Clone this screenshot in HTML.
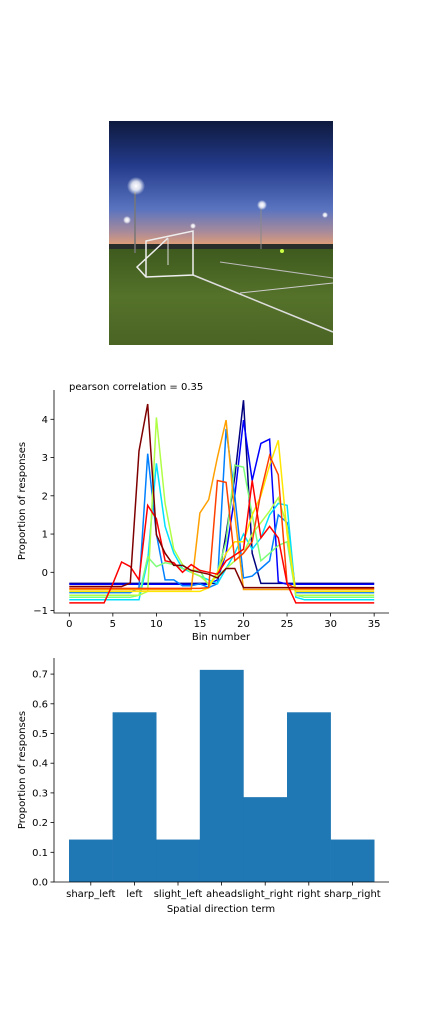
<!DOCTYPE html>
<html><head><meta charset="utf-8"><style>
body{margin:0;background:#fff;width:432px;height:1008px;overflow:hidden}
svg text{font-family:"DejaVu Sans","Liberation Sans",sans-serif;font-size:10px;fill:#000}
</style></head><body>
<svg width="432" height="1008" viewBox="0 0 432 1008" xmlns="http://www.w3.org/2000/svg">
<defs>
<linearGradient id="sky" x1="0" y1="0" x2="0" y2="1">
<stop offset="0" stop-color="#0e1a3e"/><stop offset="0.35" stop-color="#233a8a"/><stop offset="0.7" stop-color="#5a74c0"/><stop offset="0.88" stop-color="#a88a9a"/><stop offset="1" stop-color="#e9a070"/></linearGradient>
<linearGradient id="grass" x1="0" y1="0" x2="0" y2="1">
<stop offset="0" stop-color="#3e5a1e"/><stop offset="0.5" stop-color="#55722a"/><stop offset="1" stop-color="#4a6424"/></linearGradient>
<radialGradient id="glow"><stop offset="0" stop-color="#fff"/><stop offset="0.5" stop-color="#fff" stop-opacity="0.8"/><stop offset="1" stop-color="#fff" stop-opacity="0"/></radialGradient>
</defs>
<g>
<rect x="109" y="121" width="224" height="126" fill="url(#sky)"/>
<rect x="109" y="244" width="224" height="6" fill="#2a2e2a"/>
<rect x="109" y="249" width="224" height="96" fill="url(#grass)"/>
<line x1="135" y1="192" x2="135" y2="253" stroke="#777" stroke-width="1.5"/>
<circle cx="136" cy="186" r="9" fill="url(#glow)"/>
<line x1="261" y1="208" x2="261" y2="249" stroke="#888"/>
<circle cx="262" cy="205" r="5" fill="url(#glow)"/>
<circle cx="127" cy="220" r="4" fill="url(#glow)"/>
<circle cx="325" cy="215" r="3" fill="url(#glow)"/>
<circle cx="193" cy="226" r="3" fill="url(#glow)"/>
<line x1="193" y1="275" x2="333" y2="332" stroke="#ddd" stroke-width="1.5"/>
<line x1="240" y1="293" x2="333" y2="283" stroke="#ccc"/>
<line x1="220" y1="262" x2="333" y2="278" stroke="#bbb"/>
<polyline points="146,277 146,241 193,231 193,275 146,277 137,267 168,238" fill="none" stroke="#eee" stroke-width="1.5"/>
<line x1="168" y1="238" x2="168" y2="265" stroke="#ddd"/>
<circle cx="282" cy="251" r="2" fill="#cf4"/>
</g>
<g id="lineplot"></g>
<g id="barplot"></g>
</svg>
<script>
const binCount = 36;
const seriesColors = ["#00007f","#0000ff","#0080ff","#00dfff","#7dff7a","#b0ff46","#ffe600","#ffa000","#ff4000","#ff0000","#7f0000"];
const sNavy =   [-0.29,-0.29,-0.29,-0.29,-0.29,-0.29,-0.29,-0.29,-0.29,-0.29,-0.29,-0.29,-0.29,-0.29,-0.29,-0.29,-0.29,-0.29,1.0,2.5,4.5,0.5,-0.29,-0.29,-0.29,-0.29,-0.29,-0.29,-0.29,-0.29,-0.29,-0.29,-0.29,-0.29,-0.29,-0.29];
const sBlue =   [-0.31,-0.31,-0.31,-0.31,-0.31,-0.31,-0.31,-0.31,-0.31,-0.31,-0.31,-0.31,-0.31,-0.31,-0.31,-0.31,-0.31,-0.2,0.5,2.0,3.98,2.4,3.37,3.48,-0.25,-0.31,-0.31,-0.31,-0.31,-0.31,-0.31,-0.31,-0.31,-0.31,-0.31,-0.31];
const sDodger = [-0.53,-0.53,-0.53,-0.53,-0.53,-0.53,-0.53,-0.53,-0.4,3.1,1.0,-0.2,-0.2,-0.35,-0.35,-0.3,-0.4,-0.3,3.75,2.0,-0.15,-0.1,0.1,0.3,1.5,1.3,-0.53,-0.53,-0.53,-0.53,-0.53,-0.53,-0.53,-0.53,-0.53,-0.53];
const sCyan =   [-0.72,-0.72,-0.72,-0.72,-0.72,-0.72,-0.72,-0.72,-0.72,0.3,2.85,1.2,0.5,0.1,0.0,-0.1,-0.2,-0.3,0.1,0.5,1.0,0.6,0.9,1.5,1.8,1.75,-0.65,-0.72,-0.72,-0.72,-0.72,-0.72,-0.72,-0.72,-0.72,-0.72];
const sGreen =  [-0.65,-0.65,-0.65,-0.65,-0.65,-0.65,-0.65,-0.65,-0.6,0.4,0.15,0.25,0.2,0.1,0.05,0.05,-0.35,0.0,0.8,2.8,2.75,1.5,0.3,0.5,0.7,0.8,-0.6,-0.65,-0.65,-0.65,-0.65,-0.65,-0.65,-0.65,-0.65,-0.65];
const sLime =   [-0.6,-0.6,-0.6,-0.6,-0.6,-0.6,-0.6,-0.6,-0.6,-0.5,4.05,1.8,0.6,0.2,0.0,-0.1,-0.3,-0.1,0.1,0.3,0.5,1.0,1.3,1.6,1.95,1.2,-0.6,-0.6,-0.6,-0.6,-0.6,-0.6,-0.6,-0.6,-0.6,-0.6];
const sYellow = [-0.5,-0.5,-0.5,-0.5,-0.5,-0.5,-0.5,-0.5,-0.5,-0.5,-0.5,-0.5,-0.5,-0.5,-0.5,-0.5,-0.4,0.0,0.5,0.8,0.8,1.5,2.0,2.8,3.45,1.0,-0.5,-0.5,-0.5,-0.5,-0.5,-0.5,-0.5,-0.5,-0.5,-0.5];
const sOrange = [-0.45,-0.45,-0.45,-0.45,-0.45,-0.45,-0.45,-0.45,-0.45,-0.45,-0.45,-0.45,-0.45,-0.45,-0.45,1.55,1.9,3.0,3.98,1.5,-0.45,-0.45,-0.45,-0.45,-0.45,-0.45,-0.45,-0.45,-0.45,-0.45,-0.45,-0.45,-0.45,-0.45,-0.45,-0.45];
const sOrRed =  [-0.42,-0.42,-0.42,-0.42,-0.42,-0.42,-0.42,-0.42,-0.42,-0.42,-0.42,-0.42,-0.42,-0.42,-0.42,-0.42,-0.4,2.4,2.35,0.3,0.5,0.8,2.1,3.05,2.55,-0.3,-0.42,-0.42,-0.42,-0.42,-0.42,-0.42,-0.42,-0.42,-0.42,-0.42];
const sRed =    [-0.8,-0.8,-0.8,-0.8,-0.8,-0.3,0.27,0.15,-0.2,1.75,1.4,0.3,0.25,0.0,0.2,0.05,0.0,-0.05,0.3,0.45,0.6,2.4,0.9,1.2,0.9,-0.3,-0.8,-0.8,-0.8,-0.8,-0.8,-0.8,-0.8,-0.8,-0.8,-0.8];
const sMaroon = [-0.37,-0.37,-0.37,-0.37,-0.37,-0.37,-0.37,-0.28,3.17,4.4,0.98,0.5,0.18,0.18,0.05,0.0,-0.05,-0.15,0.1,0.1,-0.4,-0.4,-0.4,-0.4,-0.4,-0.4,-0.4,-0.4,-0.4,-0.4,-0.4,-0.4,-0.4,-0.4,-0.4,-0.4];
const lineSeries = [sNavy,sBlue,sDodger,sCyan,sGreen,sLime,sYellow,sOrange,sOrRed,sRed,sMaroon];
const lineXTicks = [0,5,10,15,20,25,30,35];
const lineYTicks = [-1,0,1,2,3,4];
const pearsonText = "pearson correlation = 0.35";

const barCategories = ["sharp_left","left","slight_left","ahead","slight_right","right","sharp_right"];
const barValues = [0.1429,0.5714,0.1429,0.7143,0.2857,0.5714,0.1429];
const barYTicks = [0.0,0.1,0.2,0.3,0.4,0.5,0.6,0.7];

const NS="http://www.w3.org/2000/svg";
function mk(tag,attrs,parent,text){const e=document.createElementNS(NS,tag);for(const k in attrs)e.setAttribute(k,attrs[k]);if(text!==undefined)e.textContent=text;parent.appendChild(e);return e;}

// line chart
const L=document.getElementById('lineplot');
const lx=v=>69.3+v*8.71, ly=v=>572.3-v*38.25;
const lineBox={l:54,r:389,t:390,b:613};
lineSeries.forEach((s,i)=>{
  const p=mk('polyline',{points:s.map((v,j)=>lx(j).toFixed(1)+','+ly(v).toFixed(1)).join(' '),fill:'none',stroke:seriesColors[i],'stroke-width':1.5},L);
  
  
});
let ax=mk('path',{d:`M${lineBox.l},${lineBox.t}V${lineBox.b}H${lineBox.r}`,fill:'none',stroke:'#000','stroke-width':0.8},L);


lineXTicks.forEach(t=>{
  mk('line',{x1:lx(t),x2:lx(t),y1:lineBox.b,y2:lineBox.b+3.5,stroke:'#000','stroke-width':0.8},L);
  const tx=mk('text',{x:lx(t),y:lineBox.b+14,'text-anchor':'middle'},L,String(t));
  
  
});
lineYTicks.forEach(t=>{
  mk('line',{x1:lineBox.l-3.5,x2:lineBox.l,y1:ly(t),y2:ly(t),stroke:'#000','stroke-width':0.8},L);
  const tx=mk('text',{x:lineBox.l-6,y:ly(t)+3.5,'text-anchor':'end'},L,t<0?'\u2212'+Math.abs(t):String(t));
  
  
});
let t1=mk('text',{x:69,y:390},L,pearsonText);


let t2=mk('text',{x:221,y:640,'text-anchor':'middle'},L,'Bin number');


let t3=mk('text',{x:25,y:501,'text-anchor':'middle',transform:'rotate(-90 25 501)'},L,'Proportion of responses');



// bar chart
const B=document.getElementById('barplot');
const bw=43.6, bx=i=>69+i*bw, by=v=>882-v*297;
barValues.forEach((v,i)=>{
  const r=mk('rect',{x:bx(i),y:by(v),width:bw+0.3,height:882-by(v),fill:'#1f77b4'},B);
  
  
});
let ax2=mk('path',{d:'M54,658V882H389',fill:'none',stroke:'#000','stroke-width':0.8},B);


barCategories.forEach((c,i)=>{
  const cx=bx(i)+bw/2;
  mk('line',{x1:cx,x2:cx,y1:882,y2:885.5,stroke:'#000','stroke-width':0.8},B);
  const tx=mk('text',{x:cx,y:897,'text-anchor':'middle'},B,c);
  
  
});
barYTicks.forEach(t=>{
  mk('line',{x1:50.5,x2:54,y1:by(t),y2:by(t),stroke:'#000','stroke-width':0.8},B);
  const tx=mk('text',{x:48,y:by(t)+3.5,'text-anchor':'end'},B,t.toFixed(1));
  
  
});
let t4=mk('text',{x:221,y:912,'text-anchor':'middle'},B,'Spatial direction term');


let t5=mk('text',{x:25,y:770,'text-anchor':'middle',transform:'rotate(-90 25 770)'},B,'Proportion of responses');


</script>
</body></html>
